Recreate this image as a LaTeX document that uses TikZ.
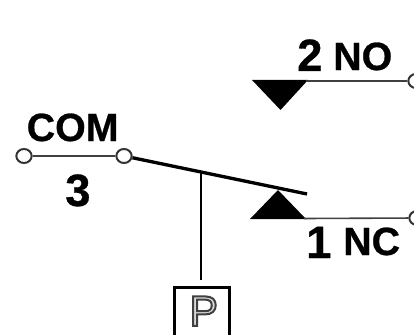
\documentclass[tikz,border=0pt]{standalone}
\usepackage{fontspec}
\usetikzlibrary{shapes.geometric}
\setmainfont{Liberation Sans}
\newfontfamily\heavyfont[FakeBold=0.7]{Liberation Sans Bold}
\newcommand{\lblfont}{\fontsize{29.5pt}{31pt}\heavyfont\selectfont}
\newcommand{\numfont}{\fontsize{34pt}{36pt}\heavyfont\selectfont}
\begin{document}
\begin{tikzpicture}[x=0.75pt,y=-0.75pt,
  terminal/.style={ellipse,draw=black!80,fill=white,line width=1.5pt,minimum width=11.5pt,minimum height=10.5pt,inner sep=0pt},
  wire/.style={draw=black!75,line width=1.2pt},
  arm/.style={draw=black,line width=2.5pt},
  contact/.style={fill=black,draw=none},
  plungerbox/.style={draw=black,line width=2.4pt,minimum width=41.5pt,minimum height=42pt,inner sep=0pt,anchor=north west,text=black!80,font=\fontsize{32pt}{34pt}\selectfont},
  lbl/.style={anchor=base west,inner sep=0pt,font=\lblfont},
  num/.style={anchor=base west,inner sep=0pt,font=\numfont}]
\useasboundingbox (0,0) rectangle (414,335);
\clip (0,0) rectangle (414,335);
\coordinate (armend) at (307,194);
\coordinate (armtap) at (201,172);
\coordinate (noleft) at (306,81);
\coordinate (ncleft) at (304,218.5);
\draw[contact] (252,80) -- (308,80) -- (280.5,110) -- cycle;
\draw[contact] (250,219) -- (306,219) -- (278,190) -- cycle;
\node[terminal] (t3) at (24,156) {};
\node[terminal] (com) at (124,156) {};
\node[terminal] (no) at (416,81) {};
\node[terminal] (nc) at (417,218) {};
\draw[wire] (t3) -- (com);
\draw[wire] (noleft) -- (no);
\draw[wire] (ncleft) -- (nc);
\draw[arm] (com) -- (armend);
\node[plungerbox] (p) at (172.5,285.5) {\hspace{3pt}\special{pdf:literal direct 2 Tr 1.5 w 0.85 g 0.25 G}P\special{pdf:literal direct 0 Tr 0 g 0 G}\rule[-6pt]{0pt}{0pt}};
\draw[draw=black,line width=1.2pt] (armtap) -- (armtap |- 0,280);
\node[lbl] (lcom) at (26.5,141) {COM};
\node[num] (l3) at (65,206) {3};
\node[num] (l2) at (297,71) {2};
\node[lbl] (lno) at (333,70) {NO};
\node[num] (l1) at (306,258) {1};
\node[lbl] (lnc) at (343,255) {NC};
\end{tikzpicture}
\end{document}
